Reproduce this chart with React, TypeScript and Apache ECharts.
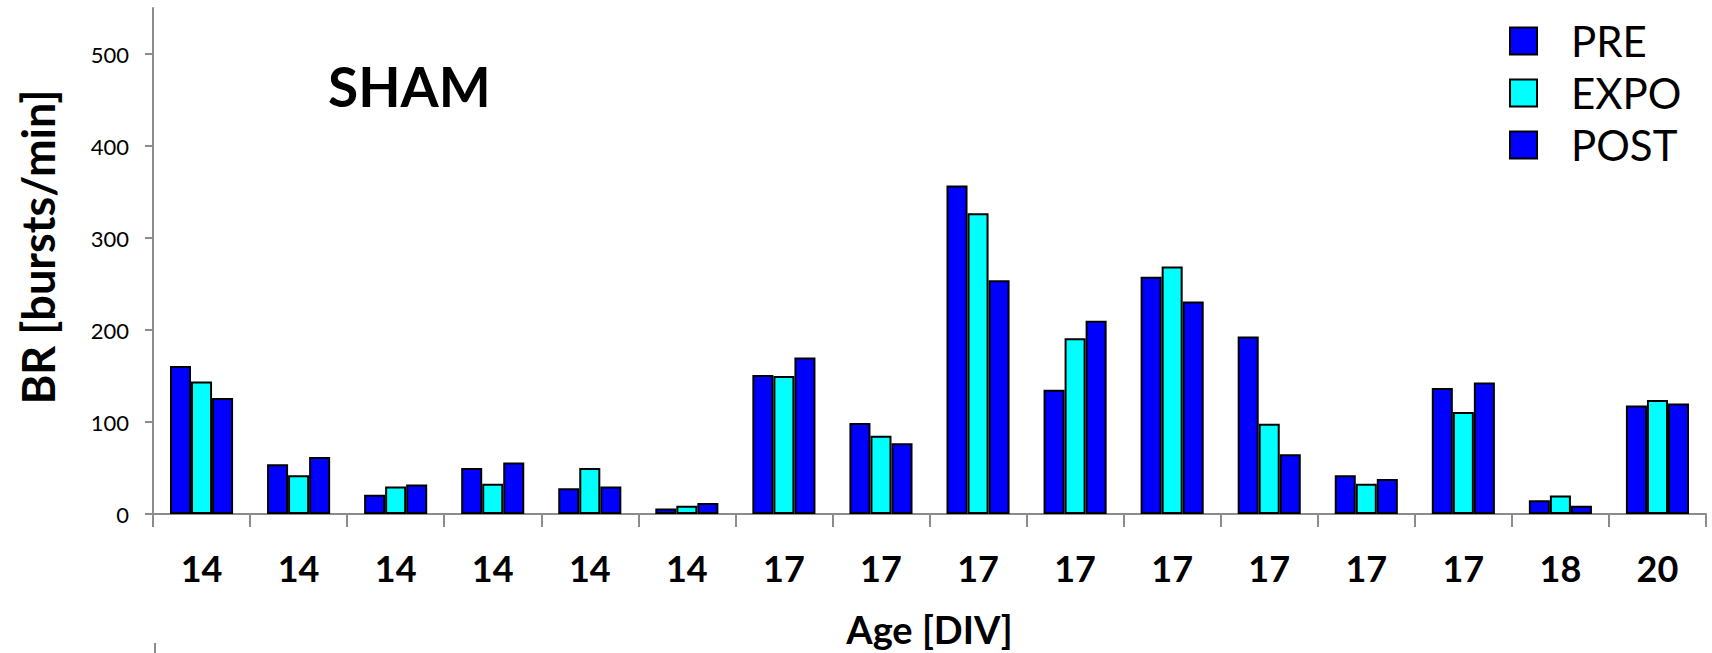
import React, { useEffect, useRef } from "react";
import * as echarts from "echarts";

// Culture age (days in vitro) of each recording
const ages = ["14", "14", "14", "14", "14", "14", "17", "17", "17", "17", "17", "17", "17", "17", "18", "20"];

// Burst rate per recording phase (bursts/min)
const pre = [161, 54, 21, 50, 28, 6, 151, 99, 357, 135, 258, 193, 42, 137, 15, 118];
const expo = [144, 42, 30, 33, 50, 9, 150, 85, 327, 191, 269, 98, 33, 111, 20, 124];
const post = [126, 62, 32, 56, 30, 12, 170, 77, 254, 210, 231, 65, 38, 143, 9, 120];

const yTicks = [0, 100, 200, 300, 400, 500];

const FONT = "Lato, 'Noto Sans', sans-serif";
const BLUE = "#0000ff";
const CYAN = "#00ffff";
const AXIS_GREY = "#8c8c8c";

export default function App() {
  const ref = useRef<HTMLDivElement>(null);

  useEffect(() => {
    if (!ref.current) return;
    const chart = echarts.init(ref.current, undefined, { renderer: "svg" });

    const bar = (name: string, data: number[], color: string) => ({
      name,
      type: "bar",
      data,
      barGap: "0%",
      barCategoryGap: "35%",
      itemStyle: { color, borderColor: "#000", borderWidth: 2 },
    });

    chart.setOption({
      animation: false,
      grid: { left: 153, right: 6, top: 8, bottom: 139, containLabel: false },
      legend: {
        orient: "vertical",
        left: 1504,
        top: 10,
        itemWidth: 27,
        itemHeight: 27,
        itemGap: 0,
        icon: "rect",
        data: ["PRE", "EXPO", "POST"],
        textStyle: {
          fontFamily: FONT,
          fontSize: 42,
          color: "#000",
          lineHeight: 52,
          padding: [0, 0, 0, 29],
        },
      },
      xAxis: {
        type: "category",
        data: ages,
        name: "Age [DIV]",
        nameLocation: "middle",
        nameGap: 96,
        nameTextStyle: { fontFamily: FONT, fontSize: 38, fontWeight: "bold", color: "#000" },
        axisLine: { lineStyle: { color: AXIS_GREY, width: 2 } },
        axisTick: { show: true, length: 13, lineStyle: { color: AXIS_GREY, width: 2 } },
        axisLabel: {
          margin: 36,
          fontFamily: FONT,
          fontSize: 36,
          fontWeight: "bold",
          color: "#000",
          interval: 0,
        },
      },
      yAxis: {
        type: "value",
        min: 0,
        max: 550,
        interval: 100,
        splitLine: { show: false },
        axisLine: { show: true, lineStyle: { color: AXIS_GREY, width: 2 } },
        axisTick: { show: true, length: 8, customValues: yTicks, lineStyle: { color: AXIS_GREY, width: 2 } },
        axisLabel: {
          margin: 24,
          fontFamily: FONT,
          fontSize: 22,
          color: "#000",
          customValues: yTicks,
        },
      },
      graphic: [
        {
          type: "text",
          x: 38,
          y: 247,
          rotation: Math.PI / 2,
          style: {
            text: "BR [bursts/min]",
            fontFamily: FONT,
            fontSize: 45,
            fontWeight: "bold",
            fill: "#000",
            align: "center",
            verticalAlign: "middle",
          },
        },
        {
          type: "text",
          left: 328,
          top: 58,
          style: { text: "SHAM", fontFamily: FONT, fontSize: 55, fontWeight: "bold", fill: "#000" },
        },
        {
          type: "line",
          shape: { x1: 155, y1: 643, x2: 155, y2: 653 },
          style: { stroke: AXIS_GREY, lineWidth: 2 },
        },
      ],
      series: [bar("PRE", pre, BLUE), bar("EXPO", expo, CYAN), bar("POST", post, BLUE)],
    });

    return () => chart.dispose();
  }, []);

  return <div ref={ref} style={{ width: 1712, height: 653, position: "absolute", left: 0, top: 0 }} />;
}
